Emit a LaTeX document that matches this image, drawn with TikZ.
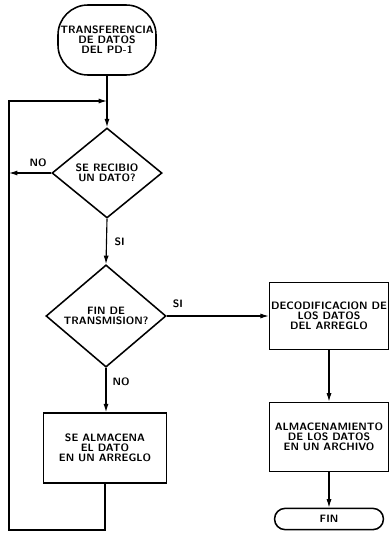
\documentclass[tikz,border=0pt]{standalone}
\usepackage{tikz}
\usetikzlibrary{shapes.geometric,arrows.meta,calc}

\begin{document}
\begin{tikzpicture}[x=0.025cm, y=-0.025cm,
    every node/.style={font=\sffamily\bfseries\fontsize{7.6}{7}\selectfont, align=center},
    proc/.style={draw, line width=1.1pt, minimum width=2.97cm, inner sep=1pt},
    decide/.style={draw, diamond, line width=1.1pt, inner sep=0pt},
    flow/.style={line width=0.8pt, -{Latex[length=6pt,width=3.6pt]}},
    wire/.style={line width=0.8pt}]
  \useasboundingbox (0,0) rectangle (390,560);

  % Inicio
  \node[draw, line width=1.1pt, rounded corners=0.75cm, minimum width=2.45cm, minimum height=1.75cm, inner sep=1pt] (inicio) at (107,40) {TRANSFERENCIA\\DE DATOS\\DEL PD-1};

  % Decisiones
  \node[decide, minimum width=2.75cm, minimum height=2.25cm] (recibio) at (107,173) {SE RECIBIO\\UN DATO?};
  \node[decide, minimum width=3.0cm, minimum height=2.25cm] (fintx) at (106,316) {FIN DE\\TRANSMISION?};

  % Procesos
  \node[proc, minimum width=3.07cm, minimum height=1.75cm] (almacena) at (105,448) {SE ALMACENA\\EL DATO\\EN UN ARREGLO};
  \node[proc, minimum height=1.68cm] (decod) at (329,316) {DECODIFICACION DE\\LOS DATOS\\DEL ARREGLO};
  \node[proc, minimum height=1.73cm] (archivo) at (329,437) {ALMACENAMIENTO\\DE LOS DATOS\\EN UN ARCHIVO};
  \node[draw, line width=1.1pt, rounded corners=0.26cm, minimum width=2.72cm, minimum height=0.53cm] (fin) at (329,519) {FIN};

  % Lazo de regreso
  \coordinate (union) at (107,101);
  \coordinate (esq) at (9,530);
  \draw[wire] (inicio.south) -- (union);
  \draw[flow] (union) -- (recibio.north);
  \draw[flow] (almacena.south) -- (almacena.south |- esq) -- (esq) |- (union);
  \draw[flow] (recibio.west) -- (9,173);
  \node at (38,163) {NO};

  % Flujo principal
  \draw[flow] (recibio.south) -- node[right=2pt] {SI} (fintx.north);
  \draw[flow] (fintx.south) -- node[right=1pt, pos=0.32] {NO} (fintx.south |- almacena.north);
  \draw[flow] (fintx.east) -- (decod.west);
  \node at ($(fintx.east)+(11,-12)$) {SI};
  \draw[flow] (decod.south) -- (archivo.north);
  \draw[flow] (archivo.south) -- (fin.north);
\end{tikzpicture}
\end{document}
